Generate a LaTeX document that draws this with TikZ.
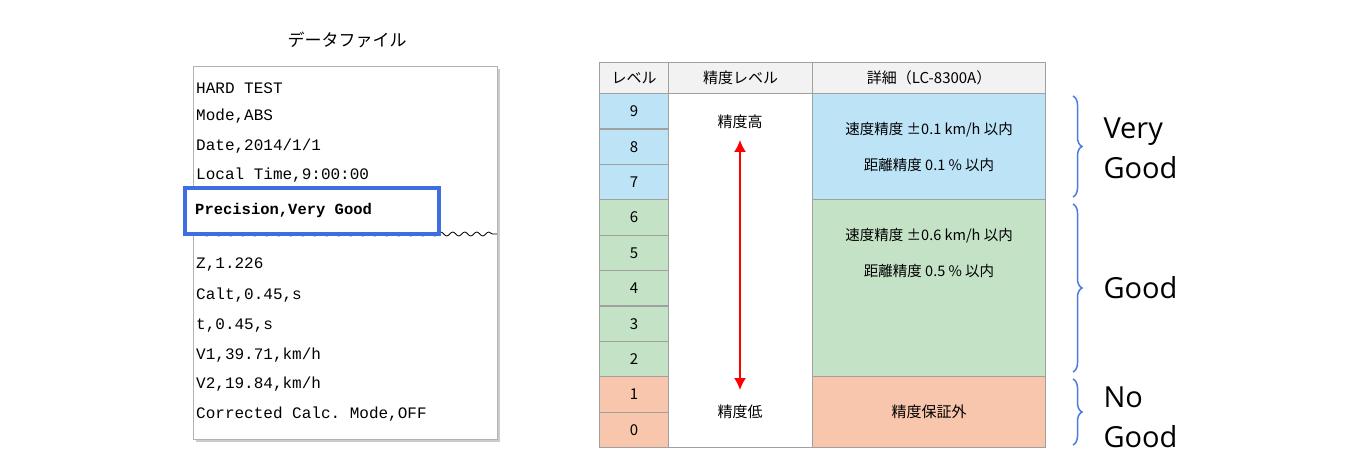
\documentclass[tikz,border=0pt]{standalone}
\usepackage{fontspec}
\setmainfont{Open Sans}
\setmonofont{Liberation Mono}
\newfontfamily\jpfont{Noto Sans CJK JP}
\usetikzlibrary{arrows.meta, positioning, decorations.pathreplacing, decorations.pathmorphing, calc}
\definecolor{cellblue}{HTML}{BDE3F7}
\definecolor{cellgreen}{HTML}{C3E2C6}
\definecolor{cellorange}{HTML}{F8C6AC}
\definecolor{gridgray}{HTML}{A0A0A0}
\definecolor{markblue}{HTML}{3D6FE0}
\definecolor{bracecol}{HTML}{4A7BE0}

\begin{document}
\begin{tikzpicture}[x=1pt, y=-1pt,
            cell/.style={rectangle, draw=gridgray, line width=1.2pt, inner sep=0pt, font=\jpfont\fontsize{15}{15}\selectfont},
            dataline/.style={anchor=west, inner sep=0pt, font=\ttfamily\fontsize{16}{16}\selectfont},
            jptext/.style={font=\jpfont\fontsize{15}{15}\selectfont},
            arrow/.style={{Latex[length=12pt, width=12pt]}-{Latex[length=12pt, width=12pt]}, red, line width=1.5pt},
            bracestyle/.style={decorate, decoration={brace, amplitude=9pt}, bracecol, line width=1.5pt},
            label/.style={anchor=west, align=left, font=\fontsize{29}{40}\selectfont}
        ]
\useasboundingbox (0,0) rectangle (1366,468);

% Data file
            \node[jptext, font=\jpfont\fontsize{17}{17}\selectfont] (file_title) at (347,40) {データファイル};
            \fill[gray!40] (196,69) rectangle (500,442);
            \node[rectangle, draw=gray!60, fill=white, minimum width=304pt, minimum height=373pt, anchor=north west] (data_box) at (193,66) {};

            \node[dataline] (line_hard) at (196,88) {HARD TEST};
            \node[dataline] (line_mode) at (196,116) {Mode,ABS};
            \node[dataline] (line_date) at (196,146) {Date,2014/1/1};
            \node[dataline] (line_time) at (196,175) {Local Time,9:00:00};
            \draw[decorate, decoration={snake, amplitude=2pt, segment length=12pt}, thick] (197,234) -- (497,234);
            \node[rectangle, draw=markblue, line width=4pt, fill=white, minimum width=254pt, minimum height=46pt, anchor=north west] (precision_box) at (183,186) {};
            \node[dataline, font=\ttfamily\bfseries\fontsize{15.5}{15.5}\selectfont] (line_prec) at (195,210) {Precision,Very Good};
            \node[dataline] (line_z) at (196,265) {Z,1.226};
            \node[dataline] (line_calt) at (196,295) {Calt,0.45,s};
            \node[dataline] (line_t) at (196,326) {t,0.45,s};
            \node[dataline] (line_v1) at (196,355) {V1,39.71,km/h};
            \node[dataline] (line_v2) at (196,384) {V2,19.84,km/h};
            \node[dataline] (line_calc) at (196,414) {Corrected Calc. Mode,OFF};

% Table header
            \node[cell, fill=gray!10, minimum width=69pt, minimum height=31pt, anchor=north west] (head_level) at (599,62) {レベル};
            \node[cell, fill=gray!10, minimum width=144pt, minimum height=31pt, anchor=north west] (head_prec) at (668,62) {精度レベル};
            \node[cell, fill=gray!10, minimum width=233pt, minimum height=31pt, anchor=north west] (head_detail) at (812,62) {詳細（LC-8300A）};

% Level cells
            \foreach \lv/\col [count=\i from 0] in {9/cellblue, 8/cellblue, 7/cellblue, 6/cellgreen, 5/cellgreen, 4/cellgreen, 3/cellgreen, 2/cellgreen, 1/cellorange, 0/cellorange}
                \node[cell, fill=\col, minimum width=69pt, minimum height=35.4pt, anchor=north west] (level_\lv) at (599,93+35.4*\i) {\lv};

% Precision column
            \node[cell, fill=white, minimum width=144pt, minimum height=354pt, anchor=north west] (prec_col) at (668,93) {};
            \node[jptext] (prec_high) at (740,122) {精度高};
            \node[jptext] (prec_low) at (740,412) {精度低};
            \coordinate (arrow_top) at (740,140);
            \coordinate (arrow_bot) at (740,390);
            \draw[arrow] (arrow_top) -- (arrow_bot);

% Detail column
            \node[cell, fill=cellblue, minimum width=233pt, minimum height=106pt, anchor=north west, align=center, font=\jpfont\fontsize{14.5}{36}\selectfont] (detail_vg) at (812,93) {速度精度 ±0.1 km/h 以内\\距離精度 0.1 \% 以内};
            \node[cell, fill=cellgreen, minimum width=233pt, minimum height=177pt, anchor=north west, align=center, font=\jpfont\fontsize{14.5}{36}\selectfont] (detail_g) at (812,199) {速度精度 ±0.6 km/h 以内\\距離精度 0.5 \% 以内\\[36pt]};
            \node[cell, fill=cellorange, minimum width=233pt, minimum height=71pt, anchor=north west] (detail_ng) at (812,376) {精度保証外};

% Braces
            \draw[bracestyle] (1073,96) -- (1073,197);
            \draw[bracestyle] (1073,204) -- (1073,372);
            \draw[bracestyle] (1073,379) -- (1073,445);
            \node[label] (lab_vg) at (1100,148) {Very\\Good};
            \node[label] (lab_g) at (1100,288) {Good};
            \node[label] (lab_ng) at (1100,417) {No\\Good};

        \end{tikzpicture}
\end{document}
